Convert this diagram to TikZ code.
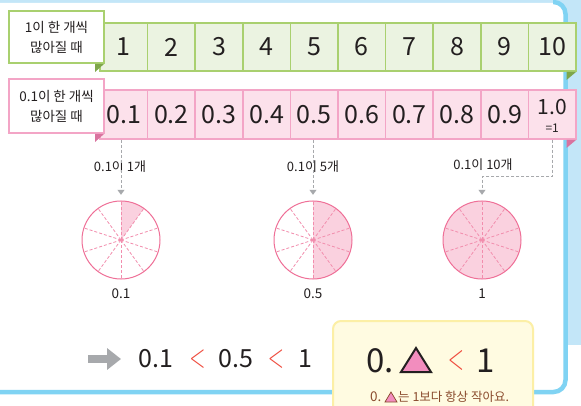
\documentclass[tikz,border=0pt]{standalone}
\usepackage{fontspec}
\setmainfont{Noto Sans CJK KR}
\usetikzlibrary{arrows.meta}
\definecolor{bgblue}{HTML}{C3E6F8}
\definecolor{lineblue}{HTML}{80D3F3}
\definecolor{gfill}{HTML}{EBF3E1}
\definecolor{gline}{HTML}{A9D06F}
\definecolor{gdark}{HTML}{7EA64A}
\definecolor{pfill}{HTML}{FCE1EB}
\definecolor{pline}{HTML}{F3A5C6}
\definecolor{pdark}{HTML}{D9739F}
\definecolor{txt}{HTML}{231F20}
\definecolor{arrowgray}{HTML}{A7A9AC}
\definecolor{cline}{HTML}{EF6F97}
\definecolor{cdash}{HTML}{F28DAD}
\definecolor{cfill}{HTML}{FAD1DF}
\definecolor{ltred}{HTML}{EF4A3C}
\definecolor{yfill}{HTML}{FFFBE1}
\definecolor{yline}{HTML}{FCEFA6}
\definecolor{browntxt}{HTML}{8A4B2D}
\definecolor{tripink}{HTML}{F28DBE}
\begin{document}
\begin{tikzpicture}[x=1pt,y=-1pt,
  cellg/.style={draw=gline, fill=gfill, line width=1.5pt, minimum width=47.6pt, minimum height=48pt, inner sep=0pt, text=txt, font=\fontsize{25}{25}\selectfont},
  cellp/.style={draw=pline, fill=pfill, line width=1.5pt, minimum width=47.6pt, minimum height=49pt, inner sep=0pt, text=txt, font=\fontsize{25}{25}\selectfont},
  labelg/.style={draw=gline, fill=white, line width=2pt, minimum width=95pt, minimum height=52pt, inner sep=0pt, align=center, text=txt, font=\fontsize{13.5}{20}\selectfont},
  labelp/.style={labelg, draw=pline, minimum height=54pt},
  plain/.style={inner sep=0pt, text=txt},
  smalltxt/.style={plain, font=\fontsize{13}{13}\selectfont},
  circlab/.style={plain, font=\fontsize{13.5}{13.5}\selectfont},
  eqtxt/.style={plain, font=\fontsize{25}{25}\selectfont},
  lesstxt/.style={inner sep=0pt, text=ltred, font=\fontsize{28}{28}\selectfont},
  pie/.style={circle, minimum size=78pt, inner sep=0pt},
  garrow/.style={draw=arrowgray, line width=1pt, dash pattern=on 3pt off 2pt},
  gtip/.style={-{Triangle[width=7pt,length=5pt]}},
  raddash/.style={draw=cdash, line width=0.8pt, dash pattern=on 3pt off 2pt},
  circedge/.style={draw=cline, line width=1pt}
]
\useasboundingbox (0,0) rectangle (581,406);
% background and panel
\fill[white] (0,0) rectangle (581,406);
\fill[bgblue] (0,0) rectangle (581,345);
\fill[white, rounded corners=12pt] (-20,3) -- (565.5,3) -- (565.5,392) -- (-20,392) -- cycle;
\fill[white] (0,394) rectangle (581,406);
\draw[lineblue, line width=4.5pt, rounded corners=12pt] (553,2) -- (565.5,2) -- (565.5,392) -- (-20,392);

% green row
\foreach \i in {1,...,10} {
  \node[cellg] (g\i) at ({100+47.6*(\i-0.5)},47) {\i};
}
\node[labelg] (gl) at (56.5,37) {1이 한 개씩\\많아질 때};
\fill[gdark] (95,64) -- (104,64) -- (95,72) -- cycle;
\fill[gdark] (566.5,72) -- (576,72) -- (566.5,80) -- cycle;

% pink row
\foreach \v [count=\i] in {0.1,0.2,0.3,0.4,0.5,0.6,0.7,0.8,0.9} {
  \node[cellp] (p\i) at ({100+47.6*(\i-0.5)},114.5) {\v};
}
\node[cellp] (p10) at ({100+47.6*9.5},114.5) {};
\node[plain, font=\fontsize{21}{21}\selectfont] (p10a) at (552.2,107.5) {1.0};
\node[plain, font=\fontsize{12}{12}\selectfont] (p10b) at (552.2,128.5) {=1};
\node[labelp] (pl) at (56.5,106) {0.1이 한 개씩\\많아질 때};
\fill[pdark] (95,134) -- (104,134) -- (95,142) -- cycle;
\fill[pdark] (566.5,140) -- (576,140) -- (566.5,148) -- cycle;

% pies
\node[pie] (c1) at (121,240) {};
\node[pie] (c2) at (313,240) {};
\node[pie] (c3) at (482,240) {};
\fill[cfill] (c1.center) -- ++(-90:39) arc[start angle=-90, end angle=-54, radius=39] -- cycle;
\fill[cfill] (c2.center) -- ++(-90:39) arc[start angle=-90, end angle=90, radius=39] -- cycle;
\fill[cfill] (c3.center) circle[radius=39];
\foreach \c in {c1,c2,c3} {
  \foreach \a in {-90,-54,-18,18,54,90,126,162,198,234} {
    \draw[raddash] (\c.center) -- ++(\a:38.5);
  }
  \draw[circedge] (\c.center) circle[radius=39];
}
\node[circlab] (cl1) at (121,294) {0.1};
\node[circlab] (cl2) at (313,294) {0.5};
\node[circlab] (cl3) at (482,294) {1};

% arrows and labels
\node[smalltxt] (a1) at (120,167) {0.1이 1개};
\node[smalltxt] (a2) at (313,167) {0.1이 5개};
\node[smalltxt] (a3) at (483,165) {0.1이 10개};
\draw[garrow] (c1.north |- p1.south) -- ([yshift=-3pt]a1.north -| c1.north);
\draw[garrow, gtip, shorten >=6pt] ([yshift=3pt]a1.south -| c1.north) -- (c1.north);
\draw[garrow] (c2.north |- p5.south) -- ([yshift=-3pt]a2.north -| c2.north);
\draw[garrow, gtip, shorten >=6pt] ([yshift=3pt]a2.south -| c2.north) -- (c2.north);
\coordinate (t3) at (482,177);
\draw[garrow, gtip, shorten >=6pt] (p10.south) |- (t3) -- (c3.north);

% bottom comparison
\draw[arrowgray, line width=8pt, -{Triangle[width=21pt,length=14pt]}] (88,359) -- (121,359);
\node[eqtxt] (e1) at (156,359) {0.1};
\node[lesstxt] (e2) at (197.5,359) {\scalebox{0.85}[1.35]{$<$}};
\node[eqtxt] (e3) at (236,359) {0.5};
\node[lesstxt] (e4) at (276,359) {\scalebox{0.85}[1.35]{$<$}};
\node[eqtxt] (e5) at (305,359) {1};

% yellow box
\node[draw=yline, fill=yfill, line width=2pt, rounded corners=8pt, minimum width=200pt, minimum height=100pt] (yb) at (433,371) {};
\node[plain, anchor=west, font=\fontsize{33}{33}\selectfont] (y1) at (366,361) {0.};
\draw[txt, fill=tripink, line width=2pt] (401,372) -- (431,372) -- (416,348) -- cycle;
\node[lesstxt, font=\fontsize{32}{32}\selectfont] (y2) at (456,360.5) {\scalebox{0.85}[1.45]{$<$}};
\node[plain, font=\fontsize{33}{33}\selectfont] (y3) at (486,361) {1};
\node[plain, anchor=west, text=browntxt, font=\fontsize{13.5}{13.5}\selectfont] (s1) at (370,397) {0.};
\draw[browntxt, fill=tripink, line width=0.7pt] (385,402) -- (397,402) -- (391,392) -- cycle;
\node[plain, anchor=west, text=browntxt, font=\fontsize{12.5}{12.5}\selectfont] (s2) at (398,397) {는 1보다 항상 작아요.};
\end{tikzpicture}
\end{document}
